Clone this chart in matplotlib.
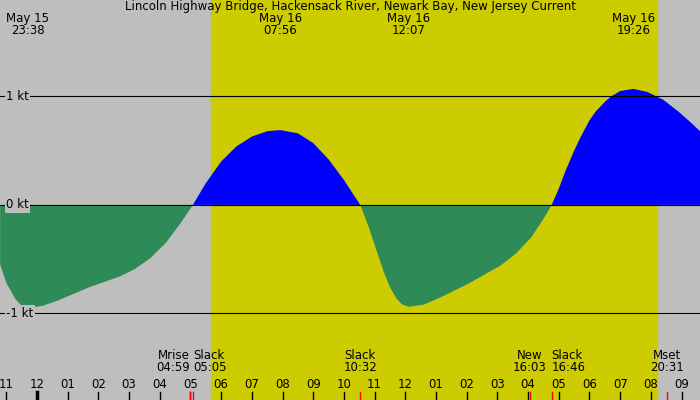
import matplotlib
matplotlib.use("Agg")
import matplotlib.pyplot as plt
import numpy as np

title = "Lincoln Highway Bridge, Hackensack River, Newark Bay, New Jersey Current"
hours = [22.8,23.0,23.3,23.5,23.77,24.2,24.7,25.2,25.7,26.2,26.7,27.2,27.7,28.2,28.7,29.08,29.5,30.0,30.5,31.0,31.5,31.93,32.5,33.0,33.5,34.0,34.53,34.8,35.0,35.3,35.5,35.7,35.9,36.12,36.6,37.1,37.6,38.1,38.6,39.1,39.6,40.1,40.5,40.77,41.0,41.2,41.5,41.7,42.0,42.2,42.5,42.7,43.0,43.43,43.9,44.4,44.9,45.3,45.6]
speed = [-0.55,-0.72,-0.87,-0.93,-0.95,-0.93,-0.88,-0.82,-0.76,-0.71,-0.66,-0.59,-0.49,-0.35,-0.16,0,0.2,0.40,0.54,0.63,0.68,0.69,0.66,0.57,0.42,0.23,0,-0.2,-0.37,-0.62,-0.76,-0.86,-0.92,-0.94,-0.92,-0.86,-0.79,-0.72,-0.64,-0.56,-0.45,-0.30,-0.13,0,0.15,0.3,0.5,0.62,0.78,0.86,0.95,1.0,1.05,1.07,1.04,0.97,0.86,0.76,0.68]
top_labels = [("May 15", "23:38", 23.63), ("May 16", "07:56", 31.93), ("May 16", "12:07", 36.12), ("May 16", "19:26", 43.43)]
events = [("Mrise", "04:59", 28.98, "right"), ("Slack", "05:05", 29.08, "left"), ("Slack", "10:32", 34.53, "center"),
          ("New", "16:03", 40.05, "center"), ("Slack", "16:46", 40.77, "left"), ("Mset", "20:31", 44.52, "center")]
sunrise, sunset = 29.67, 44.2
ylevels = [1, 0, -1]
ylabels = ["1 kt", "0 kt", "-1 kt"]

fig = plt.figure(figsize=(7, 4), dpi=100)
ax = fig.add_axes([0, 0, 1, 1])
x0, x1 = 22.795, 45.6
ax.set_xlim(x0, x1)
ax.set_ylim(-1.8, 1.89)
ax.axis("off")
ax.add_patch(plt.Rectangle((x0, -5), x1 - x0, 10, color="#bebebe", zorder=0))
ax.axvspan(sunrise, sunset, color="#cccc00", zorder=1)
h = np.array(hours); s = np.array(speed)
ax.fill_between(h, s, 0, where=s >= 0, color="#0000ff", interpolate=True, zorder=2, lw=0)
ax.fill_between(h, s, 0, where=s <= 0, color="#2e8b57", interpolate=True, zorder=2, lw=0)
for lv, lb in zip(ylevels, ylabels):
    ax.axhline(lv, color="black", lw=0.8, zorder=3)
    ax.text(x0 + 0.2, lv, lb, ha="left", va="center", fontsize=8.5, zorder=4,
            bbox=dict(facecolor="#bebebe", edgecolor="none", pad=1.0))
ax.text((x0 + x1) / 2, 1.89, title, ha="center", va="top", fontsize=8.5, zorder=4)
for d, t, hh in top_labels:
    xx = max(hh, x0 + 0.9)
    ax.text(xx, 1.78, d + "\n" + t, ha="center", va="top", fontsize=8.5, linespacing=0.95, zorder=4)
ytrans = ax.get_xaxis_transform()
for hr in range(23, 46):
    lbl = "%02d" % (hr % 12 if hr % 12 else 12)
    ax.text(hr, 15 / 400, lbl, transform=ytrans, ha="center", va="center", fontsize=8.5, zorder=4)
    ax.plot([hr, hr], [0, 8 / 400], transform=ytrans, color="black", lw=2.5 if hr == 24 else 1, zorder=4)
for nm, t, hh, al in events:
    ax.text(hh, 26 / 400, nm + "\n" + t, transform=ytrans, ha=al, va="bottom", fontsize=8.5, linespacing=0.9, zorder=4)
    ax.plot([hh, hh], [0, 8 / 400], transform=ytrans, color="red", lw=1, zorder=5)
fig.savefig("out.png", dpi=100)
